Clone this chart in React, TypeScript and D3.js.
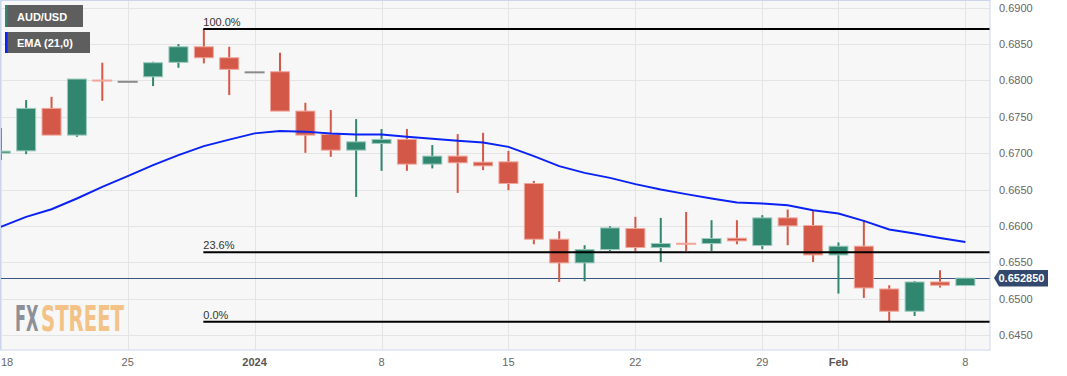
import React, { useLayoutEffect, useRef, useState } from "react";
import * as d3 from "d3";

const dates = [
  "Dec 18", "Dec 19", "Dec 20", "Dec 21", "Dec 22",
  "Dec 25", "Dec 26", "Dec 27", "Dec 28", "Dec 29",
  "Jan 1", "Jan 2", "Jan 3", "Jan 4", "Jan 5",
  "Jan 8", "Jan 9", "Jan 10", "Jan 11", "Jan 12",
  "Jan 15", "Jan 16", "Jan 17", "Jan 18", "Jan 19",
  "Jan 22", "Jan 23", "Jan 24", "Jan 25", "Jan 26",
  "Jan 29", "Jan 30", "Jan 31", "Feb 1", "Feb 2",
  "Feb 5", "Feb 6", "Feb 7", "Feb 8",
];

const openV = [
  0.67001, 0.67032, 0.67615, 0.67248, 0.68004,
  0.6798, 0.68049, 0.68247, 0.68461, 0.6831,
  0.6811, 0.68118, 0.67578, 0.67258, 0.67042,
  0.67134, 0.67189, 0.6685, 0.6696, 0.66877,
  0.66881, 0.66584, 0.65819, 0.65494, 0.65678,
  0.65966, 0.65705, 0.65764, 0.6576, 0.65833,
  0.65733, 0.66112, 0.66007, 0.65603, 0.65723,
  0.65136, 0.6483, 0.65232, 0.65183,
];
const highV = [
  0.67344, 0.67729, 0.67774, 0.68018, 0.68242,
  0.6798, 0.68255, 0.68498, 0.68705, 0.68461,
  0.6811, 0.68379, 0.67692, 0.67592, 0.67468,
  0.67331, 0.67331, 0.67111, 0.67262, 0.6728,
  0.67032, 0.6662, 0.65929, 0.65737, 0.65998,
  0.66126, 0.66112, 0.66194, 0.6608, 0.6608,
  0.66149, 0.66227, 0.66208, 0.65774, 0.6608,
  0.65187, 0.65246, 0.65393, 0.65285,
];
const lowV = [
  0.66905, 0.66987, 0.67248, 0.67225, 0.67719,
  0.6798, 0.67921, 0.68173, 0.68233, 0.67798,
  0.6811, 0.67578, 0.67005, 0.6695, 0.664,
  0.66758, 0.66758, 0.66791, 0.66455, 0.66767,
  0.66492, 0.6575, 0.65232, 0.65242, 0.65658,
  0.65658, 0.65507, 0.65658, 0.65658, 0.6575,
  0.65682, 0.65737, 0.65507, 0.65073, 0.65013,
  0.64686, 0.64765, 0.65156, 0.65183,
];
const closeV = [
  0.67028, 0.67615, 0.67248, 0.68018, 0.67997,
  0.6798, 0.68242, 0.68461, 0.6831, 0.68151,
  0.6811, 0.67578, 0.67248, 0.67042, 0.67156,
  0.67189, 0.6685, 0.6696, 0.66868, 0.66826,
  0.66584, 0.65819, 0.65494, 0.65678, 0.65974,
  0.65705, 0.6576, 0.65757, 0.65829, 0.65796,
  0.66112, 0.66002, 0.65603, 0.65723, 0.6515,
  0.6483, 0.65232, 0.65187, 0.65285,
];

const emaV = [
  0.65988, 0.66126, 0.66231, 0.66378, 0.66538,
  0.66685, 0.66836, 0.66973, 0.67097, 0.67186,
  0.67272, 0.67303, 0.67296, 0.67269, 0.67258,
  0.67255, 0.67225, 0.67197, 0.6717, 0.67148,
  0.67087, 0.6696, 0.66822, 0.6673, 0.66661,
  0.66575, 0.66502, 0.66438, 0.66378, 0.66323,
  0.6631, 0.66286, 0.66218, 0.66172, 0.66071,
  0.65952, 0.65898, 0.65837, 0.65782,
];

const fibLabels = ["100.0%", "23.6%", "0.0%"];
const fibValues = [0.68705, 0.6564, 0.64686];
const fibStartIndex = 8;

const yTicks = [0.645, 0.65, 0.655, 0.66, 0.665, 0.67, 0.675, 0.68, 0.685, 0.69];
const xTickIndex = [0, 5, 10, 15, 20, 25, 30, 33, 38];
const xTickLabels = ["18", "25", "2024", "8", "15", "22", "29", "Feb", "8"];
const xTickBold = [false, false, true, false, false, false, false, true, false];

const currentPrice = 0.65285;
const currentLabel = "0.652850";

const W = 1067;
const H = 376;
const plotRight = 990;
const plotBottom = 350;

const GREEN = "#31866f";
const GREEN_EDGE = "#9ccbbd";
const RED = "#d45847";
const RED_EDGE = "#f0a79c";
const GREY = "#8a8a8a";

export default function App() {
  const x = d3.scaleLinear().domain([-0.03, 38.97]).range([0, plotRight]);
  const y = d3.scaleLinear().domain([0.645, 0.69]).range([335.3, 7.5]);
  const bodyW = 20;

  const fxRef = useRef<SVGTextElement>(null);
  const stRef = useRef<SVGTextElement>(null);
  const [scales, setScales] = useState<[number, number]>([0.5, 0.5]);

  useLayoutEffect(() => {
    const a = fxRef.current ? fxRef.current.getComputedTextLength() : 0;
    const b = stRef.current ? stRef.current.getComputedTextLength() : 0;
    if (a > 0 && b > 0) setScales([23.5 / a, 83 / b]);
  }, []);

  const emaLine = d3
    .line<number>()
    .x((_, i) => x(i))
    .y((d) => y(d))
    .curve(d3.curveLinear)(emaV) as string;

  const font = "'Liberation Sans', Arial, Helvetica, sans-serif";
  const logoFont = "'DejaVu Sans Condensed', 'DejaVu Sans', sans-serif";

  return (
    <svg
      width={W}
      height={H}
      style={{ position: "absolute", left: 0, top: 0, background: "#ffffff" }}
      fontFamily={font}
    >
      <defs>
        <clipPath id="plotClip">
          <rect x={0} y={0} width={plotRight} height={plotBottom} />
        </clipPath>
      </defs>
      <rect x={0} y={0} width={plotRight} height={plotBottom} fill="#f7f7f7" />
      {/* horizontal grid */}
      {yTicks.map((t) => (
        <line
          key={"hg" + t}
          x1={0}
          x2={plotRight}
          y1={Math.round(y(t)) + 0.5}
          y2={Math.round(y(t)) + 0.5}
          stroke="#e4e4e4"
          strokeWidth={1}
        />
      ))}
      {/* vertical grid */}
      {xTickIndex.map((idx) => (
        <line
          key={"vg" + idx}
          x1={Math.round(x(idx)) + 0.5}
          x2={Math.round(x(idx)) + 0.5}
          y1={0}
          y2={plotBottom}
          stroke="#e4e4e4"
          strokeWidth={1}
        />
      ))}

      {/* logo */}
      <text
        ref={fxRef}
        transform={`translate(15,331) scale(${scales[0]},1)`}
        fontFamily={logoFont}
        fontWeight="bold"
        fontSize={36}
        fill="#8d9099"
      >
        FX
      </text>
      <text
        ref={stRef}
        transform={`translate(41,331) scale(${scales[1]},1)`}
        fontFamily={logoFont}
        fontWeight="bold"
        fontSize={36}
        fill="#f2c286"
      >
        STREET
      </text>

      <g clipPath="url(#plotClip)">
        {/* current price line */}
        <line
          x1={0}
          x2={plotRight}
          y1={Math.round(y(currentPrice)) + 0.5}
          y2={Math.round(y(currentPrice)) + 0.5}
          stroke="#3a5580"
          strokeWidth={1}
        />

        {/* candles */}
        {dates.map((d, i) => {
          const o = openV[i];
          const c = closeV[i];
          const hi = highV[i];
          const lo = lowV[i];
          const cx = x(i);
          const flat = hi === lo;
          if (flat) {
            return (
              <rect
                key={d}
                x={cx - bodyW / 2}
                y={y(o) - 1}
                width={bodyW}
                height={2}
                fill={GREY}
              />
            );
          }
          const up = c >= o;
          const fill = up ? GREEN : RED;
          const edge = up ? GREEN_EDGE : RED_EDGE;
          const top = y(Math.max(o, c));
          const bot = y(Math.min(o, c));
          const bh = Math.max(bot - top, 1);
          return (
            <g key={d}>
              <rect x={cx - 1} y={y(hi)} width={2} height={y(lo) - y(hi)} fill={fill} />
              <rect
                x={cx - bodyW / 2 + 0.5}
                y={top}
                width={bodyW - 1}
                height={bh}
                fill={fill}
                stroke={edge}
                strokeWidth={1}
              />
            </g>
          );
        })}

        {/* EMA */}
        <path d={emaLine} fill="none" stroke="#0a22f5" strokeWidth={2} />

        {/* fib levels */}
        {fibValues.map((v, k) => (
          <g key={"fib" + k}>
            <line
              x1={x(fibStartIndex) - 0.5}
              x2={plotRight}
              y1={y(v)}
              y2={y(v)}
              stroke="#000000"
              strokeWidth={2}
            />
            <text x={x(fibStartIndex) - 0.5} y={y(v) - 3} fontSize={11} fill="#333333">
              {fibLabels[k]}
            </text>
          </g>
        ))}
      </g>

      {/* plot border */}
      <rect
        x={0.5}
        y={0.5}
        width={plotRight - 0.5}
        height={plotBottom - 0.5}
        fill="none"
        stroke="#ccd6eb"
        strokeWidth={1}
      />

      {/* y axis labels */}
      {yTicks.map((t) => (
        <text key={"yl" + t} x={999} y={y(t) + 4} fontSize={11} fill="#666666">
          {t.toFixed(4)}
        </text>
      ))}

      {/* x axis labels */}
      {xTickIndex.map((idx, k) => {
        const px = x(idx);
        const anchor = px < 10 ? "start" : "middle";
        return (
          <text
            key={"xl" + k}
            x={px < 10 ? 1 : px}
            y={366}
            fontSize={11}
            textAnchor={anchor}
            fontWeight={xTickBold[k] ? "bold" : "normal"}
            fill={xTickBold[k] ? "#555555" : "#666666"}
          >
            {xTickLabels[k]}
          </text>
        );
      })}

      {/* current price label */}
      {(() => {
        const py = y(currentPrice);
        const left = 994;
        const right = 1048;
        return (
          <g>
            <path
              d={`M${left},${py} L${left + 5},${py - 8} L${right},${py - 8} L${right},${py + 8.5} L${left + 5},${py + 8.5} Z`}
              fill="#33486d"
            />
            <text x={998.5} y={py + 4} fontSize={11} fontWeight="bold" fill="#ffffff">
              {currentLabel}
            </text>
          </g>
        );
      })()}

      {/* legend */}
      <g>
        <rect x={5} y={5} width={78} height={22} fill="#5e5e5e" />
        <rect x={5} y={5} width={2.5} height={22} fill={GREEN} />
        <text x={17} y={20.5} fontSize={11} fontWeight="bold" fill="#ffffff">
          AUD/USD
        </text>
        <rect x={5} y={32} width={85} height={21} fill="#5e5e5e" />
        <rect x={5} y={32} width={2.5} height={21} fill="#0a22f5" />
        <text x={17} y={47} fontSize={11} fontWeight="bold" fill="#ffffff">
          EMA (21,0)
        </text>
      </g>
    </svg>
  );
}
